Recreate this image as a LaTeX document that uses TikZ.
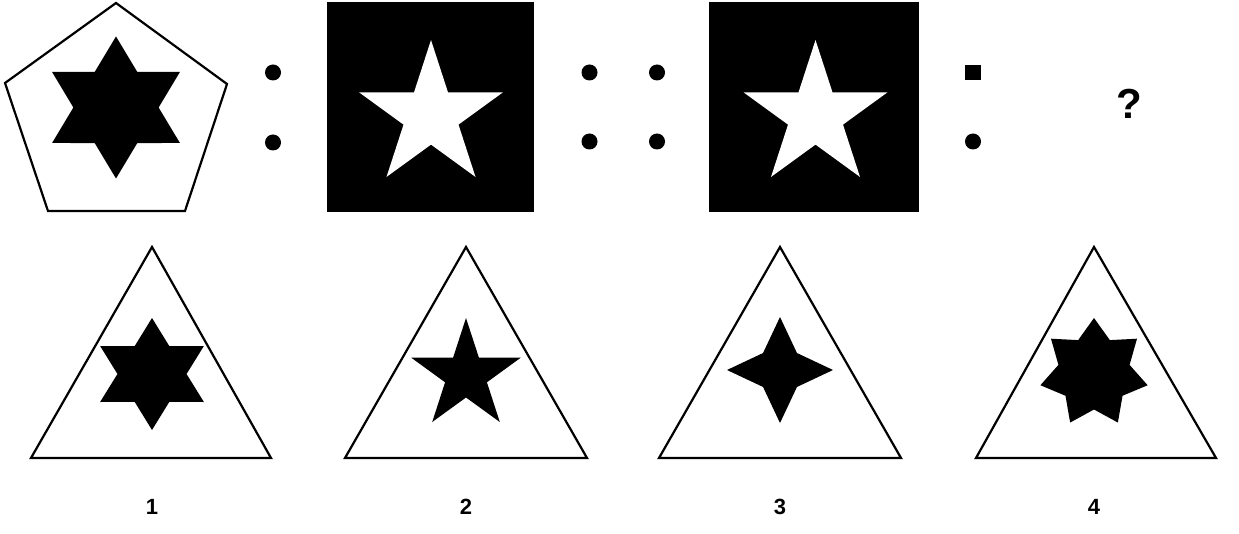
\documentclass[tikz,border=0pt]{standalone}
\usepackage{fontspec}
\setmainfont{Liberation Sans}
\newcommand\starshape[3]{(90:#2) \foreach \k in {1,...,#1}{ -- ({90+(\k-0.5)*360/#1}:#3) -- ({90+\k*360/#1}:#2)} -- cycle}
\begin{document}
\begin{tikzpicture}[x=1pt,y=-1pt,
  outline/.style={draw=black, line width=2.2pt, fill=white},
  dotmark/.style={fill=black},
  numtext/.style={font=\fontsize{22}{26}\selectfont\bfseries, inner sep=0pt},
  qtext/.style={font=\fontsize{42}{48}\selectfont\bfseries, inner sep=0pt}]
\useasboundingbox (0,0) rectangle (1239,534);
\fill[white] (0,0) rectangle (1239,534);

% pentagon with hexagram
\draw[outline] (116,3) -- (227,84) -- (185,211) -- (48,211) -- (5,83) -- cycle;
\begin{scope}[shift={(116,107.5)}, yscale=-1, xscale=1.04]
  \fill[black] \starshape{6}{71}{41};
\end{scope}

% colon 1
\fill[dotmark] (273,72.5) circle (8);
\fill[dotmark] (273,142.5) circle (8);

% black square 1
\fill[black] (327,2) rectangle (534,212);
\begin{scope}[shift={(431,115.7)}, yscale=-1]
  \fill[white] \starshape{5}{75.7}{28.9};
\end{scope}

% double colon
\fill[dotmark] (589.5,72.5) circle (8);
\fill[dotmark] (589.5,141.5) circle (8);
\fill[dotmark] (657,72.5) circle (8);
\fill[dotmark] (657,141.5) circle (8);

% black square 2
\fill[black] (709,2) rectangle (919,212);
\begin{scope}[shift={(815.5,115.7)}, yscale=-1]
  \fill[white] \starshape{5}{75.7}{28.9};
\end{scope}

% colon 3
\fill[dotmark] (965,65) rectangle (981,80);
\fill[dotmark] (973,141.5) circle (8);

\node[qtext] (q) at (1129,103.5) {?};

% answer triangles
\draw[outline] (152,247) -- (271,458) -- (31,458) -- cycle;
\begin{scope}[shift={(152,374)}, yscale=-1, xscale=1.07]
  \fill[black] \starshape{6}{56}{32.3};
\end{scope}

\draw[outline] (466,247) -- (587,458) -- (345,458) -- cycle;
\begin{scope}[shift={(466,375.5)}, yscale=-1]
  \fill[black] \starshape{5}{57.5}{22};
\end{scope}

\draw[outline] (780,247) -- (901,458) -- (659,458) -- cycle;
\begin{scope}[shift={(780,370)}, yscale=-1]
  \fill[black] \starshape{4}{53}{24};
\end{scope}

\draw[outline] (1094,247) -- (1216,458) -- (976,458) -- cycle;
\begin{scope}[shift={(1094,373)}, yscale=-1]
  \fill[black] \starshape{7}{55}{36.5};
\end{scope}

\node[numtext] (n1) at (152,507) {1};
\node[numtext] (n2) at (466,507) {2};
\node[numtext] (n3) at (780,507) {3};
\node[numtext] (n4) at (1094,507) {4};
\end{tikzpicture}
\end{document}
